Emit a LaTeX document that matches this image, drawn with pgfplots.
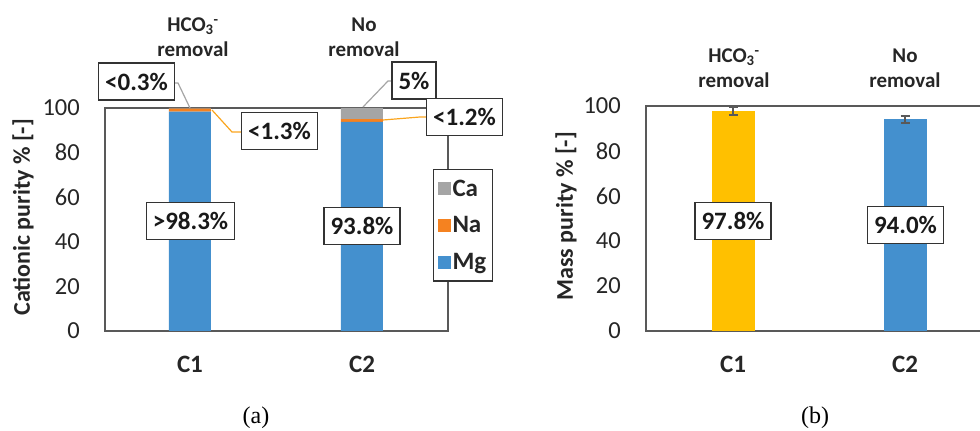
\documentclass[border=0pt]{standalone}
\usepackage{fontspec}
\setmainfont{Carlito}
\newfontfamily\seriffont{Liberation Serif}
\usepackage{pgfplots}
\pgfplotsset{compat=1.18}
\definecolor{cblue}{RGB}{68,144,206}
\definecolor{corange}{RGB}{245,130,32}
\definecolor{cgray}{RGB}{165,165,165}
\definecolor{cyellow}{RGB}{255,192,0}
\definecolor{cline}{RGB}{250,165,30}
\definecolor{cerr}{RGB}{89,89,89}
\newcommand{\fs}[1]{\fontsize{#1bp}{#1bp}\selectfont}
\pgfplotsset{
  common/.style={
    scale only axis, anchor=south west,
    ymin=0, ymax=100,
    xtick={1,2}, xticklabels={C1,C2},
    ytick={0,20,40,60,80,100}, yticklabels={0,20,40,60,80,100},
    major tick length=0pt,
    axis line style={black!65, line width=1.2bp},
    yticklabel style={font=\fs{24.5}, text=black!85, anchor=east, inner sep=0pt, xshift=-25bp},
    xticklabel style={font=\bfseries\fs{25}, text=black!85, anchor=center, inner sep=0pt, yshift=-33bp},
    clip=false,
  }
}
\begin{document}
\begin{tikzpicture}
\useasboundingbox (0,0) rectangle (980bp,431bp);
% ---------- (a) ----------
\begin{axis}[common,
  at={(105bp,100bp)}, width=343bp, height=223bp,
  xmin=0.506, xmax=2.5,
  ybar stacked, bar width=42bp,
  every axis y label/.style={at={(rel axis cs:0,0.51)}, xshift=-82bp, rotate=90, anchor=center, font=\bfseries\fs{24}, text=black!85},
  ylabel={Cationic purity \% [-]},
  reverse legend,
  legend image code/.code={\fill[#1] (0bp,-6.5bp) rectangle (13bp,6.5bp);},
  legend style={draw=black!80, line width=1.2bp, fill=white,
    at={(0.956,0.726)}, anchor=north west,
    inner xsep=4bp, inner ysep=8bp, row sep=15bp,
    font=\bfseries\fs{25}, text=black!85, cells={anchor=west},
    /tikz/every even column/.append style={column sep=3bp}},
]
\addplot[fill=cblue, draw=none] coordinates {(1,98.4) (2,93.8)};
\addplot[fill=corange, draw=none] coordinates {(1,1.3) (2,1.2)};
\addplot[fill=cgray, draw=none] coordinates {(1,0.3) (2,5.0)};
\legend{Mg,Na,Ca}
\end{axis}
% ---------- (b) ----------
\begin{axis}[common,
  at={(646bp,100bp)}, width=345bp, height=225bp,
  xmin=0.494, xmax=2.5,
  ybar, bar width=43bp, bar shift=0pt,
  every axis y label/.style={at={(rel axis cs:0,0.51)}, xshift=-80bp, rotate=90, anchor=center, font=\bfseries\fs{24}, text=black!85},
  ylabel={Mass purity \% [-]},
]
\addplot[fill=cyellow, draw=none,
  error bars/.cd, y dir=both, y explicit,
  error bar style={line width=2bp, draw=cerr},
  error mark options={rotate=90, mark size=4.5bp, line width=2bp, draw=cerr}]
  coordinates {(1,97.8) +- (0,1.7)};
\addplot[fill=cblue, draw=none,
  error bars/.cd, y dir=both, y explicit,
  error bar style={line width=2bp, draw=cerr},
  error mark options={rotate=90, mark size=4.5bp, line width=2bp, draw=cerr}]
  coordinates {(2,94.0) +- (0,1.5)};
\end{axis}
% ---------- annotations (pixel coordinates) ----------
\begin{scope}[x=1bp, y=-1bp, shift={(0,431bp)},
  box/.style={draw=black!80, line width=1.2bp, fill=white, minimum height=37bp,
    inner xsep=6.5bp, font=\bfseries\fs{25}, text=black!90},
  toplab/.style={align=center, font=\bfseries\fontsize{21bp}{25bp}\selectfont, text=black!85, inner sep=0pt}]
% leader lines
\draw[cgray, line width=1.2bp] (175,83) -- (178,83) -- (190,108);
\draw[cline, line width=1.2bp] (212,110) -- (232,132) -- (241,132);
\draw[cgray, line width=1.2bp] (363,107) -- (388,81) -- (392,81);
\draw[cline, line width=1.2bp] (383,120) -- (420,117) -- (426,117);
% boxes
\node[box] at (136.5,81.5) {<0.3\%};
\node[box] at (279.5,131) {<1.3\%};
\node[box] at (414,80.5) {5\%};
\node[box] at (464.5,117) {<1.2\%};
\node[box] at (190.5,221) {>98.3\%};
\node[box] at (362,226) {93.8\%};
\node[box] at (733,221) {97.8\%};
\node[box] at (905.5,225) {94.0\%};
% top labels
\node[toplab] at (193,37.5) {HCO\textsubscript{3}\textsuperscript{-}\\removal};
\node[toplab] at (364,37.5) {No\\removal};
\node[toplab] at (734,68.5) {HCO\textsubscript{3}\textsuperscript{-}\\removal};
\node[toplab] at (905,68.5) {No\\removal};
% panel letters
\node[font=\seriffont\fs{24}, inner sep=0pt] at (256,418) {(a)};
\node[font=\seriffont\fs{24}, inner sep=0pt] at (815,418) {(b)};
\end{scope}
\end{tikzpicture}
\end{document}
